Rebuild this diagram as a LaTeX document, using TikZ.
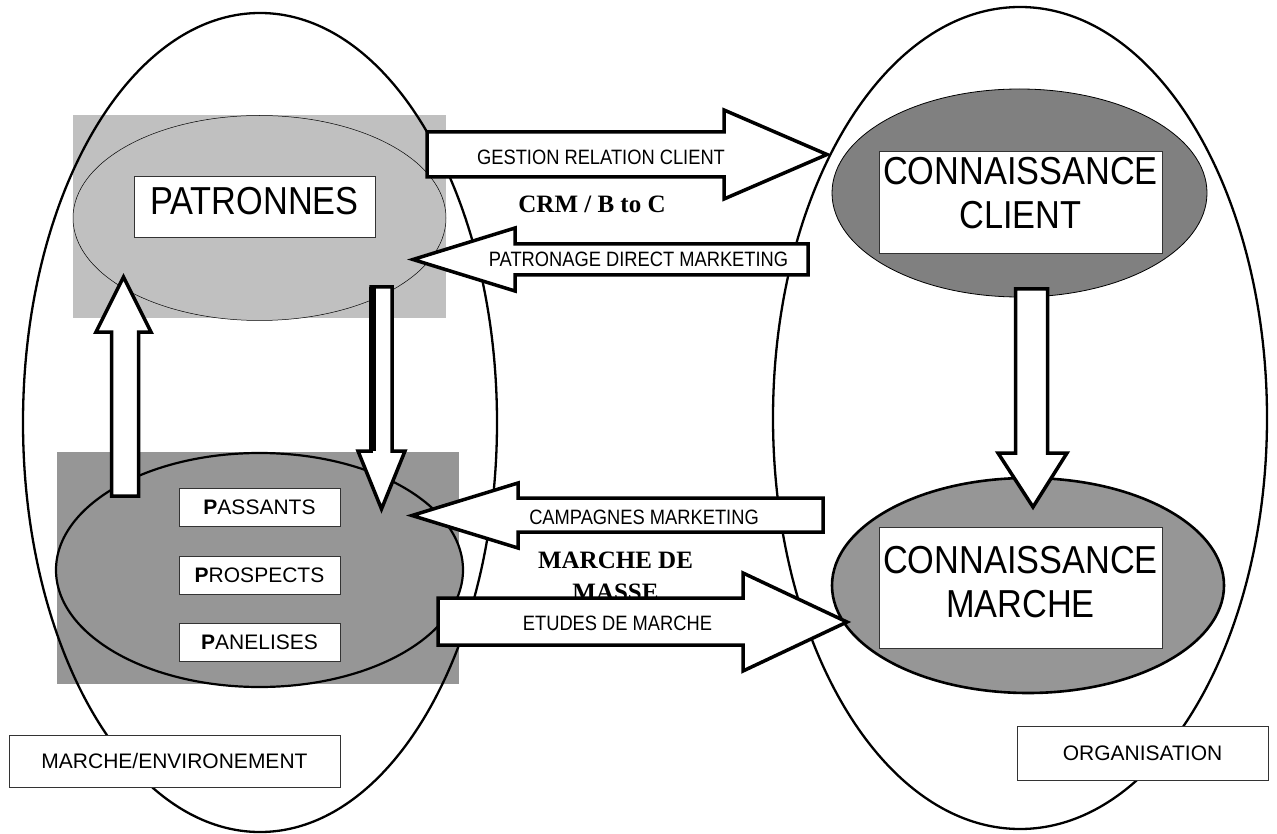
\documentclass[tikz,border=0pt]{standalone}
\usepackage{fontspec}
\setmainfont{Liberation Sans}
\newfontfamily\condsf[FakeStretch=0.88]{Liberation Sans}
\newfontfamily\notefont{Liberation Serif}
\usetikzlibrary{shapes.geometric}

\definecolor{patgray}{HTML}{C0C0C0}
\definecolor{massgray}{HTML}{969696}
\definecolor{clientgray}{HTML}{808080}

\begin{document}
\begin{tikzpicture}[x=1pt, y=-1pt,
    bigoval/.style={ellipse, draw, line width=2.3pt, inner sep=0pt},
    group/.style={ellipse, draw, inner sep=0pt},
    labelbox/.style={draw=black!80, fill=white, line width=0.8pt, inner sep=0pt},
    blockarrow/.style={draw, fill=white, line width=3.5pt, line join=miter},
    arrowtext/.style={font=\condsf\fontsize{20.8}{24}\selectfont, inner sep=0pt},
    bigtext/.style={font=\condsf\fontsize{39}{44}\selectfont, align=center},
    boldnote/.style={font=\notefont\bfseries\fontsize{25}{32}\selectfont, align=center, inner sep=0pt},
    smalltext/.style={font=\fontsize{21}{24}\selectfont}]
    \useasboundingbox (0,0) rectangle (1277,834);

    % grey backgrounds
    \fill[patgray] (73,115) rectangle (446,318);
    \fill[massgray] (57,452) rectangle (459,684);

    % market and organisation
    \node[bigoval, minimum width=474, minimum height=819] (market) at (260,422.5) {};
    \node[bigoval, minimum width=494, minimum height=822] (org) at (1020,418) {};

    % inner groups
    \node[group, fill=patgray, line width=0.5pt, minimum width=373, minimum height=205] (patronnes) at (259.5,218) {};
    \node[group, fill=massgray, line width=2.2pt, minimum width=407, minimum height=234] (masse) at (259.5,570) {};
    \node[group, fill=clientgray, line width=0.8pt, minimum width=375, minimum height=208] (client) at (1019.5,193) {};
    \node[group, fill=massgray, line width=2.6pt, minimum width=392, minimum height=215] (marche) at (1028,585.5) {};

    % labels
    \node[labelbox, bigtext, minimum width=241, minimum height=61, text depth=11pt] (patbox) at (254.5,206.5) {PATRONNES};
    \node[labelbox, bigtext, minimum width=283, minimum height=102, text depth=18pt] (clibox) at (1020.5,202) {CONNAISSANCE\\CLIENT};
    \node[labelbox, bigtext, minimum width=283, minimum height=121, text depth=12pt] (marbox) at (1020.5,587.5) {CONNAISSANCE\\MARCHE};
    \node[labelbox, smalltext, minimum width=161, minimum height=38] (passants) at (259.5,507) {\textbf{P}ASSANTS};
    \node[labelbox, smalltext, minimum width=161, minimum height=38] (prospects) at (259.5,575) {\textbf{P}ROSPECTS};
    \node[labelbox, smalltext, minimum width=161, minimum height=38] (panelises) at (259.5,642) {\textbf{P}ANELISES};
    \node[labelbox, smalltext, minimum width=331, minimum height=52] (envbox) at (174.5,761) {MARCHE/ENVIRONEMENT};
    \node[labelbox, smalltext, minimum width=251, minimum height=54] (orgbox) at (1142.5,753) {ORGANISATION};

    \node[boldnote] (crm) at (592,204) {CRM / B to C};
    \node[boldnote] (massnote) at (615.5,576.5) {MARCHE DE\\MASSE};

    % block arrows
    \draw[blockarrow] (427,132) -- (724,132) -- (724,110) -- (827,154.5) -- (724,199) -- (724,177) -- (427,177) -- cycle;
    \node[arrowtext] (gestion) at (601,157) {GESTION RELATION CLIENT};
    \draw[blockarrow] (808,244) -- (515,244) -- (515,228) -- (413,259.5) -- (515,291) -- (515,275) -- (808,275) -- cycle;
    \node[arrowtext] (patronage) at (638.5,259.5) {PATRONAGE DIRECT MARKETING};
    \draw[blockarrow] (823,498) -- (518,498) -- (518,483) -- (412,515.5) -- (518,548) -- (518,532) -- (823,532) -- cycle;
    \node[arrowtext] (campagnes) at (644,517) {CAMPAGNES MARKETING};
    \draw[blockarrow] (438,598) -- (743,598) -- (743,573) -- (847,622) -- (743,671) -- (743,645) -- (438,645) -- cycle;
    \node[arrowtext] (etudes) at (617.5,623) {ETUDES DE MARCHE};

    \draw[blockarrow] (111.5,496) -- (111.5,332) -- (96,332) -- (123.5,277) -- (151,332) -- (138.5,332) -- (138.5,496) -- cycle;
    \draw[blockarrow] (371,287) -- (392,287) -- (392,451) -- (405,451) -- (381.5,509) -- (358,451) -- (371,451) -- cycle;
    \fill (369,287) rectangle (376,451);
    \draw[blockarrow] (1015.5,289) -- (1047.5,289) -- (1047.5,453) -- (1067,453) -- (1033,507) -- (998,453) -- (1015.5,453) -- cycle;
\end{tikzpicture}
\end{document}
